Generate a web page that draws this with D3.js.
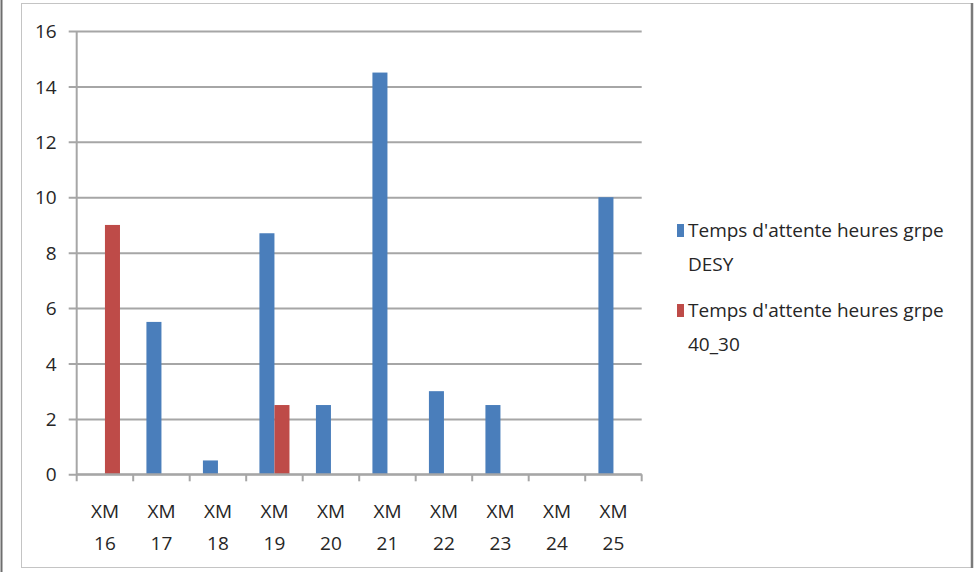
<!DOCTYPE html>
<html>
<head>
<meta charset="utf-8">
<script src="https://cdn.jsdelivr.net/npm/d3@7"></script>
<style>
  html, body { margin: 0; padding: 0; background: #fff; }
  svg { display: block; }
  text { font-family: "Open Sans", "Noto Sans", sans-serif; fill: #262626; }
</style>
</head>
<body>
<svg id="chart" width="976" height="572"></svg>
<script>
// Waiting time (hours) per machine, two groups
const categories = ["XM 16", "XM 17", "XM 18", "XM 19", "XM 20", "XM 21", "XM 22", "XM 23", "XM 24", "XM 25"];
const seriesNames = ["Temps d'attente heures grpe DESY", "Temps d'attente heures grpe 40_30"];
const desyValues  = [0, 5.5, 0.5, 8.7, 2.5, 14.5, 3, 2.5, 0, 10];
const grp4030Values = [9, 0, 0, 2.5, 0, 0, 0, 0, 0, 0];
const yTicks = [0, 2, 4, 6, 8, 10, 12, 14, 16];
const colors = ["#4a7ebb", "#be4b48"];

const seriesValues = [desyValues, grp4030Values];

const svg = d3.select("#chart");

// Outer frame lines
svg.append("line").attr("x1", 1.5).attr("x2", 1.5).attr("y1", 0).attr("y2", 572)
  .attr("stroke", "#6e6e6e").attr("stroke-width", 2);
svg.append("rect").attr("x", 21.5).attr("y", 3.5).attr("width", 950).attr("height", 564)
  .attr("fill", "none").attr("stroke", "#c4c4c4").attr("stroke-width", 1);
svg.append("line").attr("x1", 972).attr("x2", 972).attr("y1", 3).attr("y2", 568)
  .attr("stroke", "#7a7a7a").attr("stroke-width", 2.5);

const plot = { left: 76.7, right: 641.7, top: 31, bottom: 474.3 };

const x0 = d3.scaleBand().domain(categories).range([plot.left, plot.right]).paddingInner(0).paddingOuter(0);
const x1 = d3.scaleBand().domain(d3.range(seriesNames.length)).range([0, x0.bandwidth()])
  .paddingInner(0).paddingOuter(0.88);
const y = d3.scaleLinear().domain([0, 16]).range([plot.bottom, plot.top]);

const gridColor = "#a6a6a6";

// Horizontal gridlines with y ticks
const yAxis = d3.axisLeft(y).tickValues(yTicks).tickSize(-(plot.right - plot.left)).tickSizeOuter(0).tickPadding(12);
const gy = svg.append("g").attr("transform", `translate(${plot.left},0)`).call(yAxis);
gy.select(".domain").remove();
gy.selectAll(".tick line").attr("stroke", gridColor).attr("stroke-width", 2).attr("x1", -8);
gy.selectAll(".tick text").attr("font-size", 19).attr("x", -20).attr("dy", "0.35em");

// Vertical axis line
svg.append("line").attr("x1", plot.left).attr("x2", plot.left).attr("y1", plot.top).attr("y2", plot.bottom + 7)
  .attr("stroke", gridColor).attr("stroke-width", 2);

// Bars
const groups = svg.append("g").selectAll("g").data(categories).join("g")
  .attr("transform", d => `translate(${x0(d)},0)`);
groups.selectAll("rect")
  .data((d, i) => seriesValues.map((vals, s) => ({ s, v: vals[i] })))
  .join("rect")
  .attr("x", d => x1(d.s))
  .attr("width", x1.bandwidth())
  .attr("y", d => y(d.v))
  .attr("height", d => y(0) - y(d.v))
  .attr("fill", d => colors[d.s]);

// Category axis with boundary ticks
svg.append("line").attr("x1", plot.left).attr("x2", plot.right).attr("y1", plot.bottom).attr("y2", plot.bottom)
  .attr("stroke", gridColor).attr("stroke-width", 2);
const boundaries = categories.map(c => x0(c) + x0.bandwidth());
svg.append("g").selectAll("line").data(boundaries).join("line")
  .attr("x1", d => d).attr("x2", d => d)
  .attr("y1", plot.bottom).attr("y2", plot.bottom + 7)
  .attr("stroke", gridColor).attr("stroke-width", 2);

// Two-line category labels
const labels = svg.append("g").selectAll("text").data(categories).join("text")
  .attr("text-anchor", "middle")
  .attr("font-size", 19)
  .attr("transform", d => `translate(${x0(d) + x0.bandwidth() / 2},0)`);
labels.selectAll("tspan").data(d => d.split(" ")).join("tspan")
  .attr("x", 0)
  .attr("y", (d, i) => 518 + i * 32)
  .text(d => d);

// Legend
const legendItems = [
  { name: seriesNames[0], lines: ["Temps d'attente heures grpe", "DESY"], color: colors[0], y: 237 },
  { name: seriesNames[1], lines: ["Temps d'attente heures grpe", "40_30"], color: colors[1], y: 317 }
];
const lg = svg.append("g").selectAll("g").data(legendItems).join("g");
lg.append("rect")
  .attr("x", 677).attr("y", d => d.y - 13)
  .attr("width", 7).attr("height", 13)
  .attr("fill", d => d.color);
lg.append("text")
  .attr("font-size", 19)
  .selectAll("tspan").data(d => d.lines.map((t, i) => ({ t, yy: d.y + i * 34 }))).join("tspan")
  .attr("x", 688).attr("y", d => d.yy)
  .text(d => d.t);
</script>
</body>
</html>
